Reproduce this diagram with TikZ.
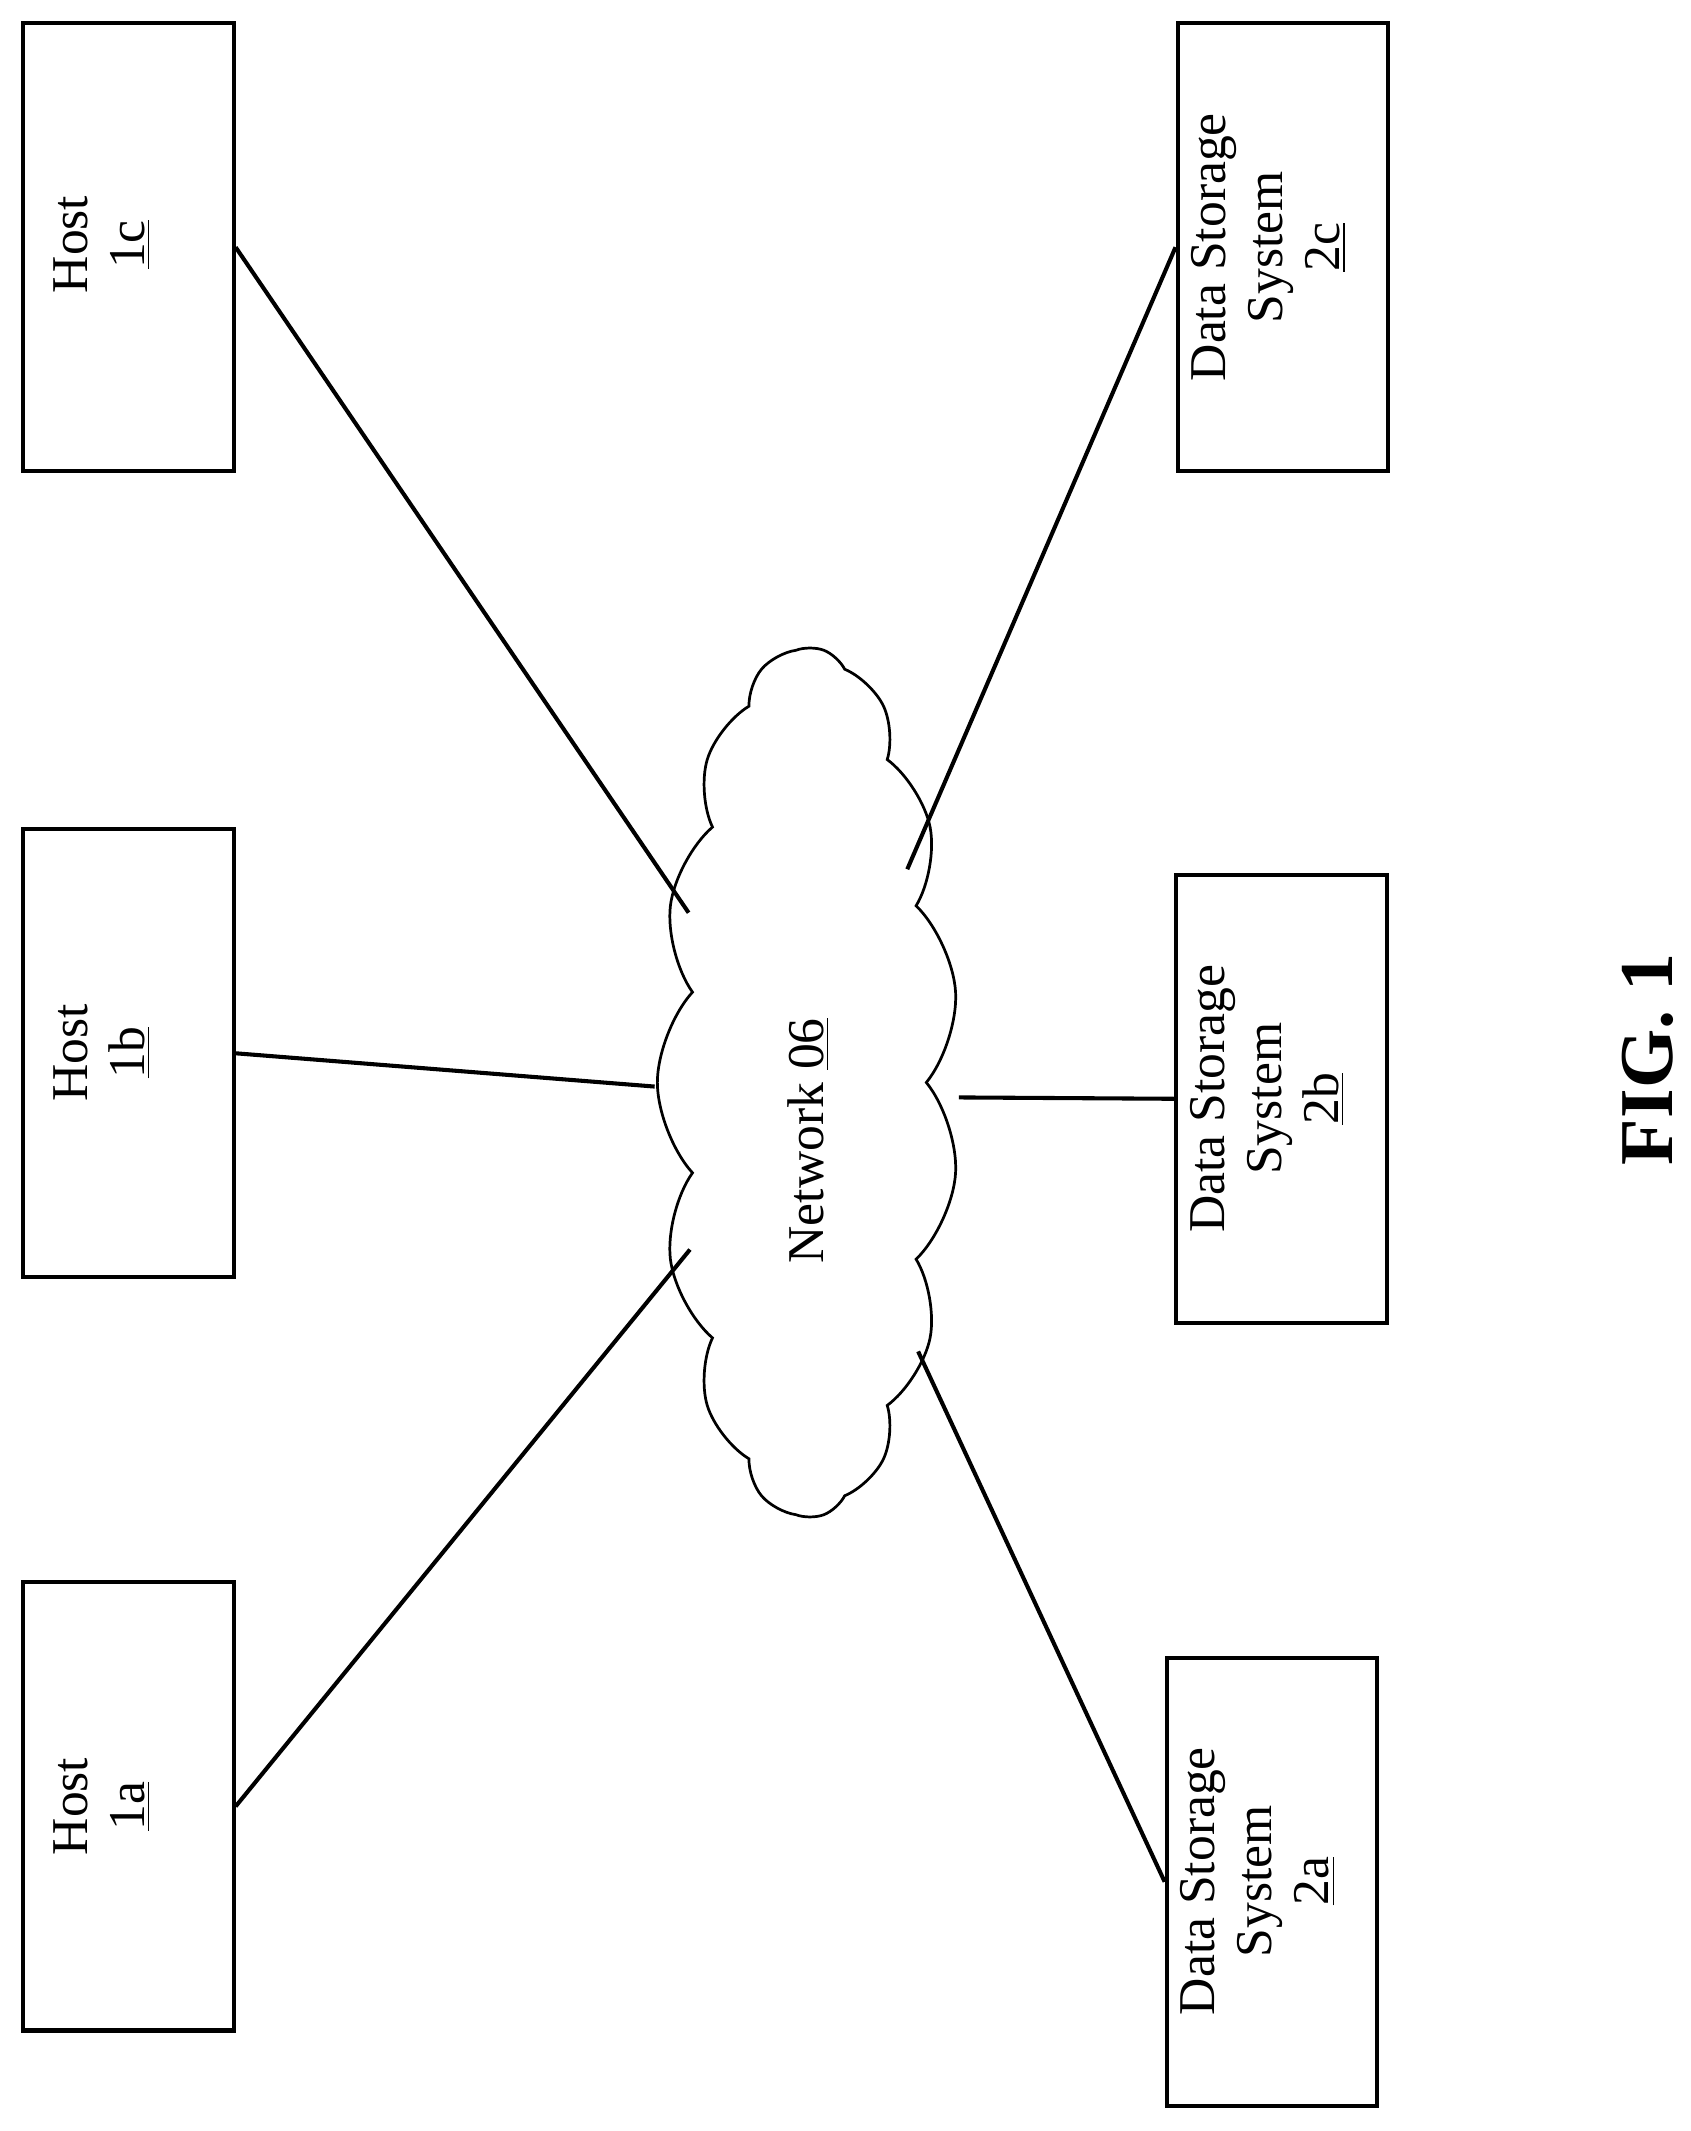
\documentclass[tikz,border=0pt]{standalone}
\usepackage{fontspec}
\setmainfont{Liberation Serif}
\usetikzlibrary{shapes.symbols}
\begin{document}
\begin{tikzpicture}[x=0.5pt,y=-0.5pt,
  box/.style={draw,line width=1.5pt,minimum width=330*0.5pt,minimum height=155*0.5pt,rotate=90,inner sep=0pt},
  txt/.style={rotate=90,align=center,font=\fontsize{19}{21}\selectfont,inner sep=0pt},
  link/.style={line width=1.5pt}]
\useasboundingbox (0,0) rectangle (1245,1569);
\node[box] (h1c) at (94.5,182) {};
\node[txt] (h1ct) at (75,180) {Host\\\underline{1c}};
\node[box] (h1b) at (94.5,775.5) {};
\node[txt] (h1bt) at (75,775) {Host\\\underline{1b}};
\node[box] (h1a) at (94.5,1330) {};
\node[txt] (h1at) at (75,1330) {Host\\\underline{1a}};
\node[box] (d2c) at (944.5,182) {};
\node[txt] (d2ct) at (934,182) {Data Storage\\System\\\underline{2c}};
\node[box] (d2b) at (943.5,809) {};
\node[txt] (d2bt) at (933,809) {Data Storage\\System\\\underline{2b}};
\node[box] (d2a) at (936.5,1385.5) {};
\node[txt] (d2at) at (926,1385) {Data Storage\\System\\\underline{2a}};
\node[cloud,draw,line width=1pt,cloud puffs=15,cloud puff arc=85,aspect=2.9,minimum width=640*0.5pt,minimum height=222*0.5pt,inner sep=0pt,rotate=90] (net) at (595,797) {};
\node[txt] (nett) at (595,840) {Network \underline{06}};
\coordinate (c1c) at (507,672);
\coordinate (c1b) at (482,800);
\coordinate (c1a) at (508,920);
\coordinate (c2c) at (668,640);
\coordinate (c2b) at (706,808);
\coordinate (c2a) at (676,995);
\draw[link] (h1c.south) -- (c1c);
\draw[link] (h1b.south) -- (c1b);
\draw[link] (h1a.south) -- (c1a);
\draw[link] (d2c.north) -- (c2c);
\draw[link] (d2b.north) -- (c2b);
\draw[link] (d2a.north) -- (c2a);
\node[rotate=90,font=\bfseries\fontsize{28}{32}\selectfont] (fig) at (1213,780) {FIG. 1};
\end{tikzpicture}
\end{document}
